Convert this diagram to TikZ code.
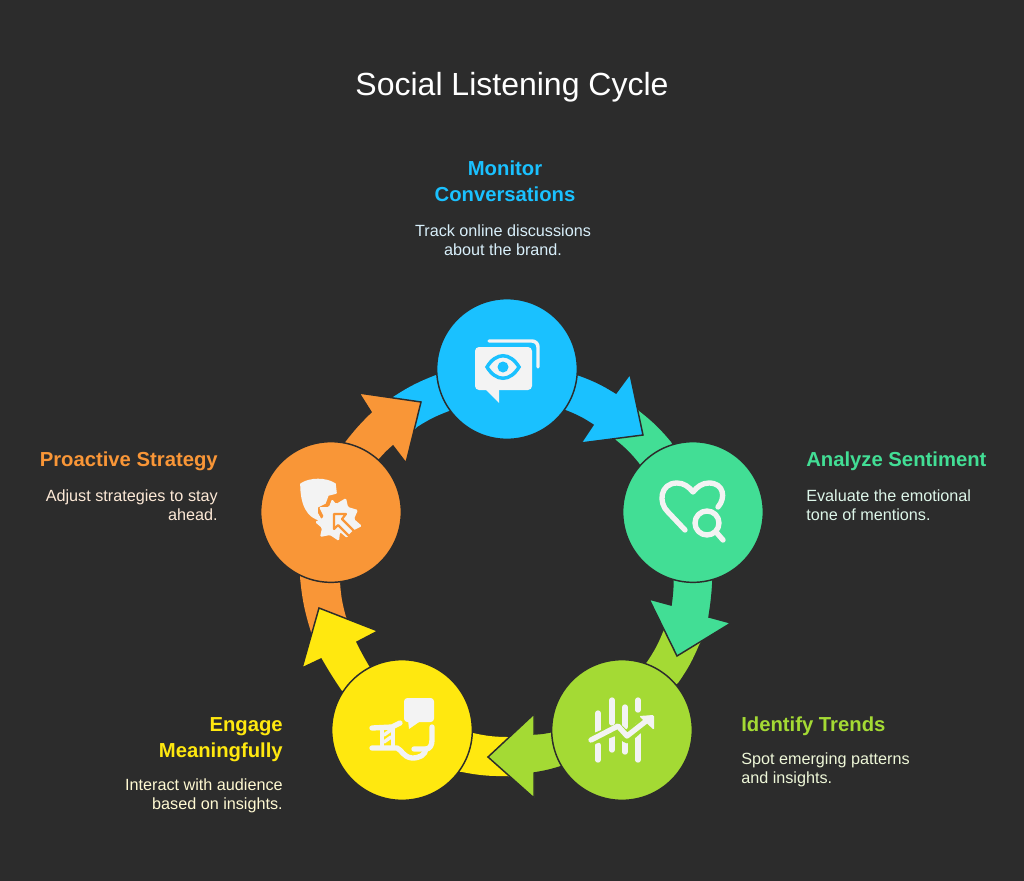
\documentclass[tikz,border=0pt]{standalone}
\usepackage{fontspec}
\setmainfont{Liberation Sans}
\definecolor{bgc}{HTML}{2C2C2C}
\definecolor{cblue}{HTML}{1AC1FF}
\definecolor{cgreen}{HTML}{42DE95}
\definecolor{clime}{HTML}{A4DA34}
\definecolor{cyel}{HTML}{FFE80F}
\definecolor{corg}{HTML}{F99637}
\definecolor{ico}{HTML}{F3F3F3}
\definecolor{dblue}{HTML}{D8EFFA}
\definecolor{dgreen}{HTML}{DDF6E9}
\definecolor{dlime}{HTML}{EEF7D8}
\definecolor{dyel}{HTML}{FFF9D2}
\definecolor{dorg}{HTML}{FDE9D6}
\tikzset{
  x=0.75pt,y=-0.75pt,
  tailshape/.style={fill=#1,draw=none},
  headshape/.style={fill=#1,draw=bgc,line width=1.1pt,line join=miter},
  disc/.style={circle,minimum size=105.5pt,inner sep=0pt,fill=#1,draw=bgc,line width=1.1pt},
  heading/.style={font=\fontsize{15.2}{19.5}\selectfont\bfseries,text=#1,inner sep=0pt},
  descr/.style={font=\fontsize{12.15}{14.6}\selectfont,text=#1,inner sep=0pt},
  ico line/.style={draw=ico,line width=#1,line cap=round,line join=round},
  ico line/.default=4pt,
}
\begin{document}
\begin{tikzpicture}
\useasboundingbox (0,0) rectangle (1024,881);
\fill[bgc] (0,0) rectangle (1024,881);
\node[font=\fontsize{24}{28}\selectfont,text=white,inner sep=0pt] (title) at (512,87) {Social Listening Cycle};
% tails
\fill[tailshape=cblue] (388,402) -- (393,397) to[bend left=6] (436,375) -- (455,375) -- (470,400) -- (449,411) to[bend right=6] (417,427) -- (412,432) -- cycle;
\fill[tailshape=cgreen] (634,406) -- (639,411) to[bend left=6] (671,442) -- (680,460) -- (650,480) -- (639,463) to[bend right=6] (616,440) -- (611,434) -- cycle;
\fill[tailshape=clime] (703,638) -- (699,645) to[bend left=6] (678,683) -- (660,695) -- (630,680) -- (647,662) to[bend right=6] (663,632) -- (666,626) -- cycle;
\fill[tailshape=cyel] (512,777) -- (507,776) to[bend left=6] (462,772) -- (445,770) -- (450,735) -- (473,733) to[bend right=6] (507,737) -- (512,737) -- cycle;
\fill[tailshape=corg] (313,640) -- (311,632) to[bend left=6] (300,577) -- (305,560) -- (335,560) -- (340,582) to[bend right=6] (346,617) -- (350,625) -- cycle;
% heads
\draw[headshape=cblue] (550,370) -- (579,375) to[bend left=6] (616,393) -- (630,374) -- (643,435) -- (581,443) -- (593,425) to[bend right=6] (566,411) -- (540,400) -- cycle;
\draw[headshape=cgreen] (713,560) -- (713,580) to[bend left=3] (709,617) -- (731,623) -- (677,656) -- (649,599) -- (671,605) to[bend right=3] (673,582) -- (673,560) -- cycle;
\draw[headshape=clime] (580,760) -- (560,767) to[bend left=4] (534,773) -- (534,798) -- (488,757) -- (534,714) -- (534,734) to[bend right=4] (550,732) -- (570,730) -- cycle;
\draw[headshape=cyel] (360,700) -- (341,691) to[bend left=2] (321,659) -- (302,668) -- (319,608) -- (378,631) -- (357,642) to[bend right=2] (370,666) -- (385,680) -- cycle;
\draw[headshape=corg] (335,460) -- (345,441) to[bend left=4] (371,412) -- (359,393) -- (421,402) -- (406,463) -- (393,446) to[bend right=4] (380,459) -- (365,470) -- cycle;
% discs
\node[disc=cblue] (n1) at (507,369) {};
\node[disc=cgreen] (n2) at (693,512) {};
\node[disc=clime] (n3) at (622,730) {};
\node[disc=cyel] (n4) at (402,730) {};
\node[disc=corg] (n5) at (331,512) {};
% icon 1: speech bubble with eye
\fill[ico,rounded corners=3pt] (475,347) rectangle (532,390);
\fill[ico,line join=round] (484,388) -- (499,403) -- (499,388) -- cycle;
\draw[ico line=2.6pt] (489,341) -- (532,341) to[out=0,in=90] (538,347) -- (538,367);
\draw[draw=cblue,line width=2.6pt,fill=ico] (487,367) .. controls (496,352) and (510,352) .. (519,367) .. controls (510,382) and (496,382) .. (487,367) -- cycle;
\fill[cblue] (503,367) circle (5.5);
% icon 2: trend
\foreach \bx/\ba/\bb/\bc/\bd in {598/713/732/745/760,612/700/723/737/750,625/707/727/740/752,638/700/710/725/760}{
  \draw[ico line] (\bx,\ba) -- (\bx,\bb);
  \draw[ico line] (\bx,\bc) -- (\bx,\bd);
}
\draw[draw=clime,line width=8pt,line cap=round,line join=round] (591,740) -- (618,729) -- (627,738) -- (650,718);
\draw[ico line] (591,740) -- (618,726) -- (627,736) -- (650,718);
\fill[ico,rounded corners=1pt] (639,716) -- (654,715) -- (654,730) -- cycle;
% icon 3: bubble and rope hands
\fill[ico,rounded corners=2.5pt] (404,698) rectangle (434,722);
\fill[ico] (408,720) -- (409,729) -- (422,720) -- cycle;
\draw[ico line] (372,728) -- (392,727) -- (400,723);
\draw[ico line] (372,748) -- (397,748) .. controls (402,750) and (403,757) .. (412,758) .. controls (420,758) and (425,755) .. (426,749);
\draw[ico line] (414,749) -- (426,749) .. controls (430,749) and (432,745) .. (432,740) -- (432,727);
\draw[ico line=3pt] (382,728) -- (382,748);
\draw[ico line=3pt] (393,728) -- (393,748);
\draw[ico line=2.6pt] (384,735) -- (391,730);
\draw[ico line=2.6pt] (384,742) -- (391,737);
% icon 4: shield and burst
\path[fill=ico,draw=ico,line width=1.2pt,line join=round] (301,484) .. controls (310,478) and (326,478) .. (335,484) -- (336,493) -- (328,495) -- (325,503) -- (317,507) -- (317,513) -- (321,520) .. controls (308,518) and (301,505) .. (301,484) -- cycle;
\fill[ico,rounded corners=1pt] (332,499) -- (336,504) -- (346,498) -- (348,507) -- (358,510) -- (354,519) -- (362,526) -- (352,531) -- (347,538) -- (340,532) -- (339,541) -- (330,535) -- (320,537) -- (322,528) -- (315,522) -- (324,517) -- (319,507) -- (329,507) -- cycle;
\draw[draw=corg,fill=ico,line width=1.6pt,line join=round] (334,514) -- (346,514) -- (342,519) -- (354,531) -- (349,536) -- (338,525) -- (334,529) -- cycle;
% icon 5: heart and lens
\draw[ico line] (685,530) -- (668,512) .. controls (658,503) and (660,483) .. (677,483) .. controls (684,483) and (689,487) .. (693,492) .. controls (697,487) and (702,483) .. (709,483) .. controls (724,483) and (726,498) .. (718,507);
\draw[ico line] (707,523) circle (12);
\draw[ico line] (716,532) -- (723,540);
% labels
\node[heading=cblue,align=center] (h1) at (505,181) {Monitor\\Conversations};
\node[descr=dblue,align=center] (d1) at (503,240) {Track online discussions\\about the brand.};
\node[heading=cgreen,anchor=west] (h2) at (806,461) {Analyze Sentiment};
\node[descr=dgreen,align=left,anchor=west] (d2) at (806,505) {Evaluate the emotional\\tone of mentions.};
\node[heading=clime,anchor=west] (h3) at (741,726) {Identify Trends};
\node[descr=dlime,align=left,anchor=west] (d3) at (741,770) {Spot emerging patterns\\and insights.};
\node[heading=cyel,align=right,anchor=east] (h4) at (283,740) {Engage\\Meaningfully};
\node[descr=dyel,align=right,anchor=east] (d4) at (283,796) {Interact with audience\\based on insights.};
\node[heading=corg,anchor=east] (h5) at (218,461) {Proactive Strategy};
\node[descr=dorg,align=right,anchor=east] (d5) at (218,505) {Adjust strategies to stay\\ahead.};
\end{tikzpicture}
\end{document}
